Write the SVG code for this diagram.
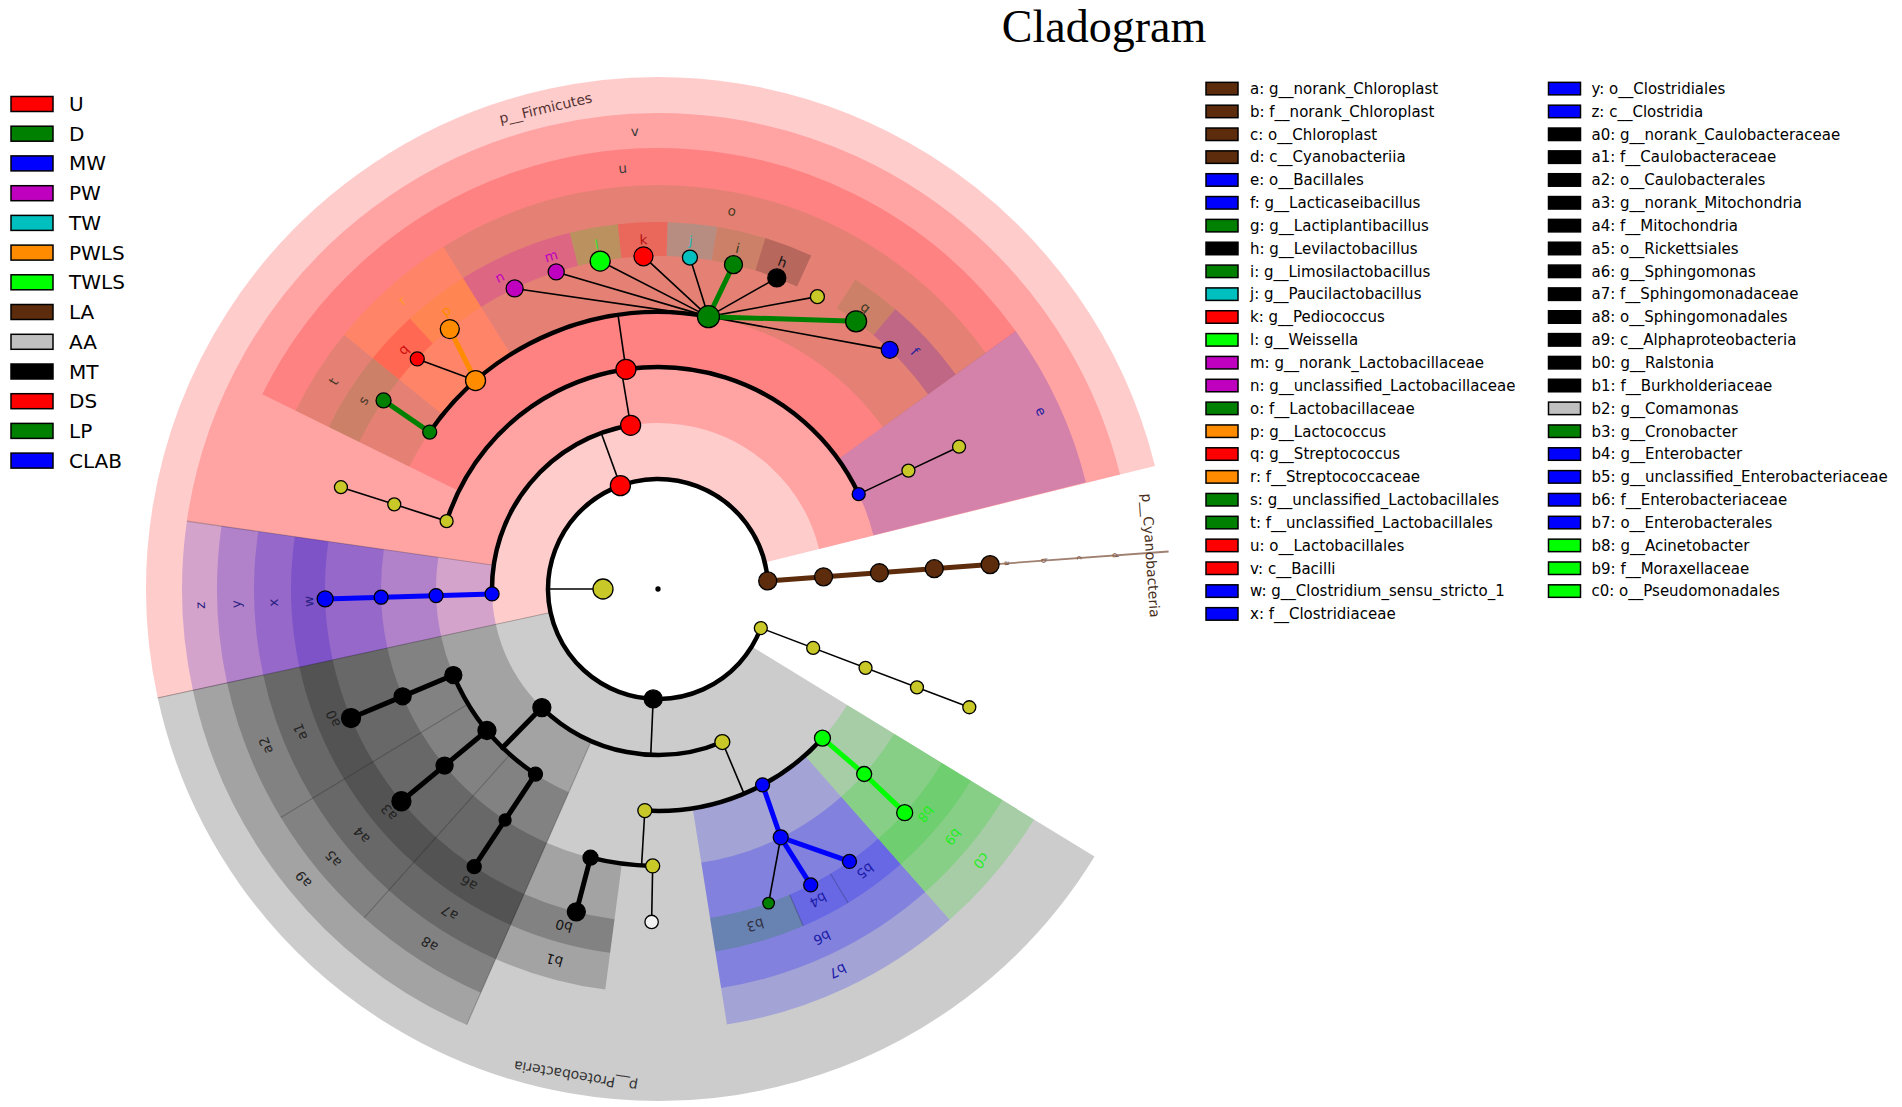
<svg xmlns="http://www.w3.org/2000/svg" width="1902" height="1107" viewBox="0 0 1902 1107">
<style>
text{font-family:"DejaVu Sans","Liberation Sans",sans-serif}
.wd circle{fill:none;stroke-opacity:0.2}
.wd circle.lg{stroke-opacity:0.1}
.p{stroke-width:402}
.c{stroke-width:310}
.o{stroke-width:219}
.f{stroke-width:127}
.g{stroke-width:34}
.edge{stroke:#000;stroke-opacity:0.22;stroke-width:1.1}
.arc{fill:none;stroke:#000;stroke-width:4.5}
.thin{stroke:#000;stroke-width:1.6;fill:none}
.tk{stroke-width:5;fill:none;stroke-linecap:round}
.nd{stroke:#000;stroke-width:1.3}
.lb{font-size:13.5px;text-anchor:middle;dominant-baseline:central}
.ph{font-size:14px;text-anchor:middle;dominant-baseline:central}
.sm{font-size:8px;text-anchor:middle;dominant-baseline:central;fill:#7a5040}
.lg rect{stroke:#000;stroke-width:1.5}
.lg1 text{font-size:20px}
.lg2 text{font-size:15px}
</style>
<rect width="1902" height="1107" fill="#fff"/>
<text id="title" x="1104" y="42" font-family="Liberation Serif" font-size="46" text-anchor="middle" style="font-family:'Liberation Serif',serif">Cladogram</text>

<g id="shading" class="wd">
<circle cx="658" cy="589" r="311" class="p" stroke="#f00" stroke-dasharray="967.81 4000" transform="rotate(167.7 658 589)"/>
<circle cx="658" cy="589" r="311" class="p" stroke="#000" stroke-dasharray="739.29 4000" transform="rotate(31.5 658 589)"/>
<circle cx="658" cy="589" r="321" class="c" stroke="#f00" stroke-dasharray="884.08 4000" transform="rotate(188.2 658 589)"/>
<circle cx="658" cy="589" r="321" class="c" stroke="#2800c8" stroke-dasharray="114.85 4000" transform="rotate(167.7 658 589)"/>
<circle cx="658" cy="589" r="321" class="c" stroke="#000" stroke-dasharray="302.54 4000" transform="rotate(113.7 658 589)"/>
<circle cx="658" cy="589" r="331.5" class="o" stroke="#f00" stroke-dasharray="682.72 4000" transform="rotate(206.2 658 589)"/>
<circle cx="658" cy="589" r="331.5" class="o" stroke="#2800c8" stroke-dasharray="126.13 4000" transform="rotate(324.2 658 589)"/>
<circle cx="658" cy="589" r="331.5" class="o" stroke="#2800c8" stroke-dasharray="118.61 4000" transform="rotate(167.7 658 589)"/>
<circle cx="658" cy="589" r="331.5" class="o" stroke="#000" stroke-dasharray="109.35 4000" transform="rotate(148.8 658 589)"/>
<circle cx="658" cy="589" r="331.5" class="o" stroke="#000" stroke-dasharray="98.36 4000" transform="rotate(131.8 658 589)"/>
<circle cx="658" cy="589" r="331.5" class="o" stroke="#000" stroke-dasharray="104.72 4000" transform="rotate(113.7 658 589)"/>
<circle cx="658" cy="589" r="331.5" class="o" stroke="#00f" stroke-dasharray="187.46 4000" transform="rotate(48.6 658 589)"/>
<circle cx="658" cy="589" r="331.5" class="o" stroke="#10d010" stroke-dasharray="98.94 4000" transform="rotate(31.5 658 589)"/>
<circle cx="658" cy="589" r="340.5" class="f" stroke="#2800c8" stroke-dasharray="121.83 4000" transform="rotate(167.7 658 589)"/>
<circle cx="658" cy="589" r="340.5" class="f lg" stroke="#008000" stroke-dasharray="76.07 4000" transform="rotate(206.2 658 589)"/>
<circle cx="658" cy="589" r="340.5" class="f" stroke="#ff8c00" stroke-dasharray="112.32 4000" transform="rotate(219 658 589)"/>
<circle cx="658" cy="589" r="340.5" class="f lg" stroke="#008000" stroke-dasharray="512.87 4000" transform="rotate(237.9 658 589)"/>
<circle cx="658" cy="589" r="340.5" class="f" stroke="#000" stroke-dasharray="112.32 4000" transform="rotate(148.8 658 589)"/>
<circle cx="658" cy="589" r="340.5" class="f" stroke="#000" stroke-dasharray="101.03 4000" transform="rotate(131.8 658 589)"/>
<circle cx="658" cy="589" r="340.5" class="f" stroke="#000" stroke-dasharray="107.57 4000" transform="rotate(113.7 658 589)"/>
<circle cx="658" cy="589" r="340.5" class="f" stroke="#000" stroke-dasharray="96.27 4000" transform="rotate(97.5 658 589)"/>
<circle cx="658" cy="589" r="340.5" class="f" stroke="#00f" stroke-dasharray="192.55 4000" transform="rotate(48.6 658 589)"/>
<circle cx="658" cy="589" r="340.5" class="f" stroke="#10d010" stroke-dasharray="101.62 4000" transform="rotate(31.5 658 589)"/>
<circle cx="658" cy="589" r="350" class="g" stroke="#2800c8" stroke-dasharray="125.23 4000" transform="rotate(167.7 658 589)"/>
<circle cx="658" cy="589" r="350" class="g lg" stroke="#008000" stroke-dasharray="78.19 4000" transform="rotate(206.2 658 589)"/>
<circle cx="658" cy="589" r="350" class="g" stroke="#f00" stroke-dasharray="51.92 4000" transform="rotate(219 658 589)"/>
<circle cx="658" cy="589" r="350" class="g" stroke="#ff8c00" stroke-dasharray="63.53 4000" transform="rotate(227.5 658 589)"/>
<circle cx="658" cy="589" r="350" class="g" stroke="#bf00bf" stroke-dasharray="63.53 4000" transform="rotate(237.9 658 589)"/>
<circle cx="658" cy="589" r="350" class="g" stroke="#bf00bf" stroke-dasharray="47.65 4000" transform="rotate(248.3 658 589)"/>
<circle cx="658" cy="589" r="350" class="g" stroke="#10d010" stroke-dasharray="46.43 4000" transform="rotate(256.1 658 589)"/>
<circle cx="658" cy="589" r="350" class="g" stroke="#f00" stroke-dasharray="47.65 4000" transform="rotate(263.7 658 589)"/>
<circle cx="658" cy="589" r="350" class="g" stroke="#00bfbf" stroke-dasharray="47.65 4000" transform="rotate(271.5 658 589)"/>
<circle cx="658" cy="589" r="350" class="g lg" stroke="#008000" stroke-dasharray="47.04 4000" transform="rotate(279.3 658 589)"/>
<circle cx="658" cy="589" r="350" class="g" stroke="#000" stroke-dasharray="47.04 4000" transform="rotate(287 658 589)"/>
<circle cx="658" cy="589" r="350" class="g lg" stroke="#008000" stroke-dasharray="47.65 4000" transform="rotate(302.5 658 589)"/>
<circle cx="658" cy="589" r="350" class="g" stroke="#2800c8" stroke-dasharray="84.91 4000" transform="rotate(310.3 658 589)"/>
<circle cx="658" cy="589" r="350" class="g" stroke="#000" stroke-dasharray="115.45 4000" transform="rotate(148.8 658 589)"/>
<circle cx="658" cy="589" r="350" class="g" stroke="#000" stroke-dasharray="103.85 4000" transform="rotate(131.8 658 589)"/>
<circle cx="658" cy="589" r="350" class="g" stroke="#000" stroke-dasharray="110.57 4000" transform="rotate(113.7 658 589)"/>
<circle cx="658" cy="589" r="350" class="g" stroke="#000" stroke-dasharray="98.96 4000" transform="rotate(97.5 658 589)"/>
<circle cx="658" cy="589" r="350" class="g" stroke="#00f" stroke-dasharray="62.31 4000" transform="rotate(48.6 658 589)"/>
<circle cx="658" cy="589" r="350" class="g" stroke="#00f" stroke-dasharray="48.26 4000" transform="rotate(58.8 658 589)"/>
<circle cx="658" cy="589" r="350" class="g" stroke="#008000" stroke-dasharray="87.35 4000" transform="rotate(66.7 658 589)"/>
<circle cx="658" cy="589" r="350" class="g" stroke="#10d010" stroke-dasharray="104.46 4000" transform="rotate(31.5 658 589)"/>
<path class="edge" d="M468.11 704L280.79 817.45M510.03 754.5L364.06 917.76M591.28 741L466.67 1024.85M789.72 894.84L803.17 926.07M830.5 873.83L848.12 902.92M550.52 612.43L157.75 698.07M493.7 565.32L186.86 521.11"/>
</g>

<g id="connectors">
<circle cx="658" cy="589" r="110" class="arc" stroke-dasharray="643.15 4000" transform="rotate(20.8 658 589)"/>
<circle cx="658" cy="589" r="166" class="arc" stroke-dasharray="238.15 4000" transform="rotate(178.3 658 589)"/>
<circle cx="658" cy="589" r="222" class="arc" stroke-dasharray="530.44 4000" transform="rotate(197.8 658 589)"/>
<circle cx="658" cy="589" r="277" class="arc" stroke-dasharray="319.08 4000" transform="rotate(214.5 658 589)"/>
<circle cx="658" cy="589" r="166" class="arc" stroke-dasharray="194.70 4000" transform="rotate(67.2 658 589)"/>
<circle cx="658" cy="589" r="222" class="arc" stroke-dasharray="130.58 4000" transform="rotate(123.5 658 589)"/>
<circle cx="658" cy="589" r="222" class="arc" stroke-dasharray="198.38 4000" transform="rotate(42.2 658 589)"/>
<circle cx="658" cy="589" r="277" class="arc" stroke-dasharray="62.85 4000" transform="rotate(91.1 658 589)"/>
<line class="thin" x1="603" y1="589" x2="548" y2="589"/>
<line class="thin" x1="620.38" y1="485.63" x2="601.22" y2="433.01"/>
<line class="thin" x1="630.60" y1="425.28" x2="621.36" y2="370.04"/>
<line class="thin" x1="625.95" y1="369.32" x2="618.01" y2="314.90"/>
<polyline class="thin" points="446.63,521.13 394.26,504.32 340.94,487.20"/>
<polyline class="thin" points="858.71,494.13 908.43,470.62 959.06,446.69"/>
<line class="thin" x1="475.54" y1="380.58" x2="417.25" y2="358.94"/>
<path class="thin" d="M708.48 316.64L514.64 288.44M708.48 316.64L556.20 271.94M708.48 316.64L600.17 261.06M708.48 316.64L643.47 256.32M708.48 316.64L689.92 257.53M708.48 316.64L776.79 277.91M708.48 316.64L817.40 296.63M708.48 316.64L889.74 349.86"/>
<line class="thin" x1="760.83" y1="628.06" x2="969.30" y2="707.25"/>
<line class="thin" x1="653.20" y1="698.90" x2="650.76" y2="754.84"/>
<line class="thin" x1="722.33" y1="742.03" x2="744.03" y2="793.65"/>
<line class="thin" x1="644.83" y1="810.61" x2="641.57" y2="865.51"/>
<line class="thin" x1="652.68" y1="865.95" x2="651.61" y2="921.94"/>
<line class="thin" x1="780.73" y1="837.33" x2="768.61" y2="903.09"/>
<line x1="990.10" y1="564.61" x2="1168.62" y2="551.50" stroke="#a08070" stroke-width="1.8"/>
<line class="tk" stroke="#008000" x1="429.72" y1="432.10" x2="383.56" y2="400.39"/>
<line class="tk" stroke="#ff8c00" x1="475.54" y1="380.58" x2="449.79" y2="329.12"/>
<path class="tk" stroke="#008000" d="M708.48 316.64L733.47 264.66M708.48 316.64L856.08 321.31"/>
<line class="tk" stroke="#0000ff" x1="492.07" y1="593.93" x2="325.15" y2="598.88"/>
<line class="tk" stroke="#5c2c0c" x1="767.70" y1="580.94" x2="990.10" y2="564.61"/>
<line class="tk" stroke="#000" x1="541.86" y1="707.60" x2="502.67" y2="747.61"/>
<polyline class="tk" stroke="#000" points="453.35,675.03 402.64,696.34 351.02,718.04"/>
<polyline class="tk" stroke="#000" points="486.95,730.51 444.57,765.57 401.42,801.26"/>
<polyline class="tk" stroke="#000" points="535.47,774.12 505.11,819.99 474.20,866.69"/>
<line class="tk" stroke="#000" x1="590.52" y1="857.65" x2="576.31" y2="911.82"/>
<path class="tk" stroke="#0000ff" d="M762.56 784.83L780.73 837.33L849.48 861.44M780.73 837.33L810.73 884.91"/>
<polyline class="tk" stroke="#00ff00" points="822.46,738.12 864.17,773.99 904.69,812.68"/>
</g>

<g id="nodes" class="nd">
<circle id="root" cx="658" cy="589" r="2" fill="#000"/>
<g id="node-kingdom"><circle cx="603" cy="589" r="10" fill="#c8c828"/></g>
<g id="node-firmicutes"><circle cx="620.38" cy="485.63" r="10" fill="#f00"/></g>
<g id="node-v"><circle cx="630.60" cy="425.28" r="10" fill="#f00"/></g>
<g id="node-u"><circle cx="625.95" cy="369.32" r="10" fill="#f00"/></g>
<g id="node-bacilli-order"><circle cx="446.63" cy="521.13" r="6.5" fill="#c8c828"/><circle cx="394.26" cy="504.32" r="6.5" fill="#c8c828"/><circle cx="340.94" cy="487.20" r="6.5" fill="#c8c828"/></g>
<g id="node-e"><circle cx="858.71" cy="494.13" r="6.5" fill="#00f"/><circle cx="908.43" cy="470.62" r="6.5" fill="#c8c828"/><circle cx="959.06" cy="446.69" r="6.5" fill="#c8c828"/></g>
<g id="node-t"><circle cx="429.72" cy="432.10" r="7" fill="#008000"/></g>
<g id="node-s"><circle cx="383.56" cy="400.39" r="7.5" fill="#008000"/></g>
<g id="node-r"><circle cx="475.54" cy="380.58" r="10" fill="#ff8c00"/></g>
<g id="node-p"><circle cx="449.79" cy="329.12" r="9.5" fill="#ff8c00"/></g>
<g id="node-q"><circle cx="417.25" cy="358.94" r="7" fill="#f00"/></g>
<g id="node-n"><circle cx="514.64" cy="288.44" r="8.5" fill="#bf00bf"/></g>
<g id="node-m"><circle cx="556.20" cy="271.94" r="8" fill="#bf00bf"/></g>
<g id="node-l"><circle cx="600.17" cy="261.06" r="10" fill="#0f0"/></g>
<g id="node-k"><circle cx="643.47" cy="256.32" r="9.5" fill="#f00"/></g>
<g id="node-j"><circle cx="689.92" cy="257.53" r="7.5" fill="#00bfbf"/></g>
<g id="node-i"><circle cx="733.47" cy="264.66" r="9" fill="#008000"/></g>
<g id="node-h"><circle cx="776.79" cy="277.91" r="9" fill="#000"/></g>
<g id="node-genus-y"><circle cx="817.40" cy="296.63" r="7" fill="#c8c828"/></g>
<g id="node-g"><circle cx="856.08" cy="321.31" r="10.5" fill="#008000"/></g>
<g id="node-f"><circle cx="889.74" cy="349.86" r="8.5" fill="#00f"/></g>
<g id="node-o"><circle cx="708.48" cy="316.64" r="11" fill="#008000"/></g>
<g id="node-z"><circle cx="492.07" cy="593.93" r="7" fill="#00f"/></g>
<g id="node-y"><circle cx="436.10" cy="595.59" r="7" fill="#00f"/></g>
<g id="node-x"><circle cx="381.12" cy="597.22" r="7" fill="#00f"/></g>
<g id="node-w"><circle cx="325.15" cy="598.88" r="8" fill="#00f"/></g>
<g id="node-cyano" fill="#5c2c0c"><circle cx="767.70" cy="580.94" r="9"/><circle cx="823.55" cy="576.84" r="9"/><circle cx="879.40" cy="572.74" r="9"/><circle cx="934.25" cy="568.71" r="9"/><circle cx="990.10" cy="564.61" r="9"/></g>
<g id="node-phylum-y" fill="#c8c828"><circle cx="760.83" cy="628.06" r="6.5"/><circle cx="813.18" cy="647.95" r="6.5"/><circle cx="865.53" cy="667.83" r="6.5"/><circle cx="916.95" cy="687.37" r="6.5"/><circle cx="969.30" cy="707.25" r="6.5"/></g>
<g id="node-proteo"><circle cx="653.20" cy="698.90" r="9" fill="#000"/></g>
<g id="node-a9"><circle cx="541.86" cy="707.60" r="9" fill="#000"/></g>
<g id="node-a2"><circle cx="453.35" cy="675.03" r="8.5" fill="#000"/></g>
<g id="node-a1"><circle cx="402.64" cy="696.34" r="8.5" fill="#000"/></g>
<g id="node-a0"><circle cx="351.02" cy="718.04" r="9.5" fill="#000"/></g>
<g id="node-a5"><circle cx="486.95" cy="730.51" r="9" fill="#000"/></g>
<g id="node-a4"><circle cx="444.57" cy="765.57" r="8.5" fill="#000"/></g>
<g id="node-a3"><circle cx="401.42" cy="801.26" r="9.5" fill="#000"/></g>
<g id="node-a8"><circle cx="535.47" cy="774.12" r="7" fill="#000"/></g>
<g id="node-a7"><circle cx="505.11" cy="819.99" r="6" fill="#000"/></g>
<g id="node-a6"><circle cx="474.20" cy="866.69" r="7" fill="#000"/></g>
<g id="node-gamma"><circle cx="722.33" cy="742.03" r="7.5" fill="#c8c828"/></g>
<g id="node-burk-order"><circle cx="644.83" cy="810.61" r="7" fill="#c8c828"/></g>
<g id="node-comam-family"><circle cx="652.68" cy="865.95" r="7" fill="#c8c828"/></g>
<g id="node-b2"><circle cx="651.61" cy="921.94" r="6.7" fill="#f2f2f2"/></g>
<g id="node-b1"><circle cx="590.52" cy="857.65" r="7.5" fill="#000"/></g>
<g id="node-b0"><circle cx="576.31" cy="911.82" r="9" fill="#000"/></g>
<g id="node-b7"><circle cx="762.56" cy="784.83" r="7" fill="#00f"/></g>
<g id="node-b6"><circle cx="780.73" cy="837.33" r="7.5" fill="#00f"/></g>
<g id="node-b5"><circle cx="849.48" cy="861.44" r="7" fill="#00f"/></g>
<g id="node-b4"><circle cx="810.73" cy="884.91" r="7" fill="#00f"/></g>
<g id="node-b3"><circle cx="768.61" cy="903.09" r="5.8" fill="#008000"/></g>
<g id="node-c0"><circle cx="822.46" cy="738.12" r="8" fill="#0f0"/></g>
<g id="node-b9"><circle cx="864.17" cy="773.99" r="7.5" fill="#0f0"/></g>
<g id="node-b8"><circle cx="904.69" cy="812.68" r="8" fill="#0f0"/></g>
</g>

<g id="labels">
<text class="lb" fill="#4a3a2a" transform="translate(658 589) rotate(212.6) translate(350 0) rotate(90)">s</text>
<text class="lb" fill="#4a3a2a" transform="translate(658 589) rotate(212.6) translate(385.5 0) rotate(90)">t</text>
<text class="lb" fill="#d01010" transform="translate(658 589) rotate(223.25) translate(350 0) rotate(90)">q</text>
<text class="lb" fill="#ff8c00" transform="translate(658 589) rotate(232.7) translate(350 0) rotate(90)">p</text>
<text class="lb" fill="#ff9a30" transform="translate(658 589) rotate(228.45) translate(385.5 0) rotate(90)">r</text>
<text class="lb" fill="#c000c0" transform="translate(658 589) rotate(243.1) translate(350 0) rotate(90)">n</text>
<text class="lb" fill="#c000c0" transform="translate(658 589) rotate(252.2) translate(350 0) rotate(90)">m</text>
<text class="lb" fill="#2ee02e" transform="translate(658 589) rotate(259.9) translate(350 0) rotate(90)">l</text>
<text class="lb" fill="#b01010" transform="translate(658 589) rotate(267.6) translate(350 0) rotate(90)">k</text>
<text class="lb" fill="#20b8b8" transform="translate(658 589) rotate(275.4) translate(350 0) rotate(90)">j</text>
<text class="lb" fill="#3a3a22" transform="translate(658 589) rotate(283.15) translate(350 0) rotate(90)">i</text>
<text class="lb" fill="#111" transform="translate(658 589) rotate(290.85) translate(350 0) rotate(90)">h</text>
<text class="lb" fill="#3a3a22" transform="translate(658 589) rotate(306.4) translate(350 0) rotate(90)">g</text>
<text class="lb" fill="#1c1ca0" transform="translate(658 589) rotate(317.25) translate(350 0) rotate(90)">f</text>
<text class="lb" fill="#4a3a22" transform="translate(658 589) rotate(281.05) translate(385.5 0) rotate(90)">o</text>
<text class="lb" fill="#3a3a3a" transform="translate(658 589) rotate(265.2) translate(422.5 0) rotate(90)">u</text>
<text class="lb" fill="#1c1ca0" transform="translate(658 589) rotate(335.1) translate(422.5 0) rotate(90)">e</text>
<text class="lb" fill="#3a3a3a" transform="translate(658 589) rotate(267.1) translate(458.5 0) rotate(90)">v</text>
<text class="ph" fill="#553333" transform="translate(658 589) rotate(256.85) translate(494 0) rotate(90)">p__Firmicutes</text>
<text class="lb" fill="#2a2080" transform="translate(658 589) rotate(177.95) translate(350 0) rotate(90)">w</text>
<text class="lb" fill="#2a2080" transform="translate(658 589) rotate(177.95) translate(385.5 0) rotate(90)">x</text>
<text class="lb" fill="#2a2080" transform="translate(658 589) rotate(177.95) translate(422.5 0) rotate(90)">y</text>
<text class="lb" fill="#2a2080" transform="translate(658 589) rotate(177.95) translate(458.5 0) rotate(90)">z</text>
<text class="sm" transform="translate(658 589) rotate(355.8) translate(350 0) rotate(90)">a</text>
<text class="sm" transform="translate(658 589) rotate(355.8) translate(387 0) rotate(90)">b</text>
<text class="sm" transform="translate(658 589) rotate(355.8) translate(422.5 0) rotate(90)">c</text>
<text class="sm" transform="translate(658 589) rotate(355.8) translate(458.5 0) rotate(90)">d</text>
<text class="ph" fill="#4a3020" transform="translate(658 589) rotate(356.1) translate(494 0) rotate(90)">p__Cyanobacteria</text>
<text class="lb" fill="#222" transform="translate(658 589) rotate(158.25) translate(350 0) rotate(90)">a0</text>
<text class="lb" fill="#222" transform="translate(658 589) rotate(158.25) translate(385.5 0) rotate(90)">a1</text>
<text class="lb" fill="#222" transform="translate(658 589) rotate(158.25) translate(422.5 0) rotate(90)">a2</text>
<text class="lb" fill="#222" transform="translate(658 589) rotate(140.3) translate(350 0) rotate(90)">a3</text>
<text class="lb" fill="#222" transform="translate(658 589) rotate(140.3) translate(385.5 0) rotate(90)">a4</text>
<text class="lb" fill="#222" transform="translate(658 589) rotate(140.3) translate(422.5 0) rotate(90)">a5</text>
<text class="lb" fill="#222" transform="translate(658 589) rotate(122.75) translate(350 0) rotate(90)">a6</text>
<text class="lb" fill="#222" transform="translate(658 589) rotate(122.75) translate(385.5 0) rotate(90)">a7</text>
<text class="lb" fill="#222" transform="translate(658 589) rotate(122.75) translate(422.5 0) rotate(90)">a8</text>
<text class="lb" fill="#222" transform="translate(658 589) rotate(140.7) translate(458.5 0) rotate(90)">a9</text>
<text class="lb" fill="#111" transform="translate(658 589) rotate(105.6) translate(350 0) rotate(90)">b0</text>
<text class="lb" fill="#111" transform="translate(658 589) rotate(105.6) translate(385.5 0) rotate(90)">b1</text>
<text class="lb" fill="#334" transform="translate(658 589) rotate(73.85) translate(350 0) rotate(90)">b3</text>
<text class="lb" fill="#1c1ca8" transform="translate(658 589) rotate(62.75) translate(350 0) rotate(90)">b4</text>
<text class="lb" fill="#1c1ca8" transform="translate(658 589) rotate(53.7) translate(350 0) rotate(90)">b5</text>
<text class="lb" fill="#1c1ca8" transform="translate(658 589) rotate(64.8) translate(385.5 0) rotate(90)">b6</text>
<text class="lb" fill="#1c1ca8" transform="translate(658 589) rotate(64.8) translate(422.5 0) rotate(90)">b7</text>
<text class="lb" fill="#22ee22" transform="translate(658 589) rotate(40.05) translate(350 0) rotate(90)">b8</text>
<text class="lb" fill="#22ee22" transform="translate(658 589) rotate(40.05) translate(385.5 0) rotate(90)">b9</text>
<text class="lb" fill="#22ee22" transform="translate(658 589) rotate(40.05) translate(422.5 0) rotate(90)">c0</text>
<text class="ph" fill="#333" transform="translate(658 589) rotate(99.6) translate(494 0) rotate(90)">p__Proteobacteria</text>
</g>

<g id="legend-groups" class="lg lg1">
<rect x="11" y="96.5" width="42" height="15" fill="#f00"/><text x="69" y="111">U</text>
<rect x="11" y="126.2" width="42" height="15" fill="#008000"/><text x="69" y="140.7">D</text>
<rect x="11" y="155.9" width="42" height="15" fill="#00f"/><text x="69" y="170.4">MW</text>
<rect x="11" y="185.7" width="42" height="15" fill="#bf00bf"/><text x="69" y="200.2">PW</text>
<rect x="11" y="215.4" width="42" height="15" fill="#00bfbf"/><text x="69" y="229.9">TW</text>
<rect x="11" y="245.1" width="42" height="15" fill="#ff8c00"/><text x="69" y="259.6">PWLS</text>
<rect x="11" y="274.8" width="42" height="15" fill="#0f0"/><text x="69" y="289.3">TWLS</text>
<rect x="11" y="304.5" width="42" height="15" fill="#5c2c0c"/><text x="69" y="319">LA</text>
<rect x="11" y="334.3" width="42" height="15" fill="#c0c0c0"/><text x="69" y="348.8">AA</text>
<rect x="11" y="364" width="42" height="15" fill="#000"/><text x="69" y="378.5">MT</text>
<rect x="11" y="393.7" width="42" height="15" fill="#f00"/><text x="69" y="408.2">DS</text>
<rect x="11" y="423.4" width="42" height="15" fill="#008000"/><text x="69" y="437.9">LP</text>
<rect x="11" y="453.1" width="42" height="15" fill="#00f"/><text x="69" y="467.6">CLAB</text>
</g>

<g id="legend-taxa" class="lg lg2">
<rect x="1206" y="82.35" width="32" height="12.5" fill="#5c2c0c"/><text x="1250" y="93.9">a: g__norank_Chloroplast</text>
<rect x="1206" y="105.19" width="32" height="12.5" fill="#5c2c0c"/><text x="1250" y="116.74">b: f__norank_Chloroplast</text>
<rect x="1206" y="128.03" width="32" height="12.5" fill="#5c2c0c"/><text x="1250" y="139.58">c: o__Chloroplast</text>
<rect x="1206" y="150.87" width="32" height="12.5" fill="#5c2c0c"/><text x="1250" y="162.42">d: c__Cyanobacteriia</text>
<rect x="1206" y="173.71" width="32" height="12.5" fill="#00f"/><text x="1250" y="185.26">e: o__Bacillales</text>
<rect x="1206" y="196.55" width="32" height="12.5" fill="#00f"/><text x="1250" y="208.1">f: g__Lacticaseibacillus</text>
<rect x="1206" y="219.39" width="32" height="12.5" fill="#008000"/><text x="1250" y="230.94">g: g__Lactiplantibacillus</text>
<rect x="1206" y="242.23" width="32" height="12.5" fill="#000"/><text x="1250" y="253.78">h: g__Levilactobacillus</text>
<rect x="1206" y="265.07" width="32" height="12.5" fill="#008000"/><text x="1250" y="276.62">i: g__Limosilactobacillus</text>
<rect x="1206" y="287.91" width="32" height="12.5" fill="#00bfbf"/><text x="1250" y="299.46">j: g__Paucilactobacillus</text>
<rect x="1206" y="310.75" width="32" height="12.5" fill="#f00"/><text x="1250" y="322.3">k: g__Pediococcus</text>
<rect x="1206" y="333.59" width="32" height="12.5" fill="#0f0"/><text x="1250" y="345.14">l: g__Weissella</text>
<rect x="1206" y="356.43" width="32" height="12.5" fill="#bf00bf"/><text x="1250" y="367.98">m: g__norank_Lactobacillaceae</text>
<rect x="1206" y="379.27" width="32" height="12.5" fill="#bf00bf"/><text x="1250" y="390.82">n: g__unclassified_Lactobacillaceae</text>
<rect x="1206" y="402.11" width="32" height="12.5" fill="#008000"/><text x="1250" y="413.66">o: f__Lactobacillaceae</text>
<rect x="1206" y="424.95" width="32" height="12.5" fill="#ff8c00"/><text x="1250" y="436.5">p: g__Lactococcus</text>
<rect x="1206" y="447.79" width="32" height="12.5" fill="#f00"/><text x="1250" y="459.34">q: g__Streptococcus</text>
<rect x="1206" y="470.63" width="32" height="12.5" fill="#ff8c00"/><text x="1250" y="482.18">r: f__Streptococcaceae</text>
<rect x="1206" y="493.47" width="32" height="12.5" fill="#008000"/><text x="1250" y="505.02">s: g__unclassified_Lactobacillales</text>
<rect x="1206" y="516.31" width="32" height="12.5" fill="#008000"/><text x="1250" y="527.86">t: f__unclassified_Lactobacillales</text>
<rect x="1206" y="539.15" width="32" height="12.5" fill="#f00"/><text x="1250" y="550.7">u: o__Lactobacillales</text>
<rect x="1206" y="561.99" width="32" height="12.5" fill="#f00"/><text x="1250" y="573.54">v: c__Bacilli</text>
<rect x="1206" y="584.83" width="32" height="12.5" fill="#00f"/><text x="1250" y="596.38">w: g__Clostridium_sensu_stricto_1</text>
<rect x="1206" y="607.67" width="32" height="12.5" fill="#00f"/><text x="1250" y="619.22">x: f__Clostridiaceae</text>
<rect x="1548.5" y="82.35" width="32" height="12.5" fill="#00f"/><text x="1591.5" y="93.9">y: o__Clostridiales</text>
<rect x="1548.5" y="105.19" width="32" height="12.5" fill="#00f"/><text x="1591.5" y="116.74">z: c__Clostridia</text>
<rect x="1548.5" y="128.03" width="32" height="12.5" fill="#000"/><text x="1591.5" y="139.58">a0: g__norank_Caulobacteraceae</text>
<rect x="1548.5" y="150.87" width="32" height="12.5" fill="#000"/><text x="1591.5" y="162.42">a1: f__Caulobacteraceae</text>
<rect x="1548.5" y="173.71" width="32" height="12.5" fill="#000"/><text x="1591.5" y="185.26">a2: o__Caulobacterales</text>
<rect x="1548.5" y="196.55" width="32" height="12.5" fill="#000"/><text x="1591.5" y="208.1">a3: g__norank_Mitochondria</text>
<rect x="1548.5" y="219.39" width="32" height="12.5" fill="#000"/><text x="1591.5" y="230.94">a4: f__Mitochondria</text>
<rect x="1548.5" y="242.23" width="32" height="12.5" fill="#000"/><text x="1591.5" y="253.78">a5: o__Rickettsiales</text>
<rect x="1548.5" y="265.07" width="32" height="12.5" fill="#000"/><text x="1591.5" y="276.62">a6: g__Sphingomonas</text>
<rect x="1548.5" y="287.91" width="32" height="12.5" fill="#000"/><text x="1591.5" y="299.46">a7: f__Sphingomonadaceae</text>
<rect x="1548.5" y="310.75" width="32" height="12.5" fill="#000"/><text x="1591.5" y="322.3">a8: o__Sphingomonadales</text>
<rect x="1548.5" y="333.59" width="32" height="12.5" fill="#000"/><text x="1591.5" y="345.14">a9: c__Alphaproteobacteria</text>
<rect x="1548.5" y="356.43" width="32" height="12.5" fill="#000"/><text x="1591.5" y="367.98">b0: g__Ralstonia</text>
<rect x="1548.5" y="379.27" width="32" height="12.5" fill="#000"/><text x="1591.5" y="390.82">b1: f__Burkholderiaceae</text>
<rect x="1548.5" y="402.11" width="32" height="12.5" fill="#c0c0c0"/><text x="1591.5" y="413.66">b2: g__Comamonas</text>
<rect x="1548.5" y="424.95" width="32" height="12.5" fill="#008000"/><text x="1591.5" y="436.5">b3: g__Cronobacter</text>
<rect x="1548.5" y="447.79" width="32" height="12.5" fill="#00f"/><text x="1591.5" y="459.34">b4: g__Enterobacter</text>
<rect x="1548.5" y="470.63" width="32" height="12.5" fill="#00f"/><text x="1591.5" y="482.18">b5: g__unclassified_Enterobacteriaceae</text>
<rect x="1548.5" y="493.47" width="32" height="12.5" fill="#00f"/><text x="1591.5" y="505.02">b6: f__Enterobacteriaceae</text>
<rect x="1548.5" y="516.31" width="32" height="12.5" fill="#00f"/><text x="1591.5" y="527.86">b7: o__Enterobacterales</text>
<rect x="1548.5" y="539.15" width="32" height="12.5" fill="#0f0"/><text x="1591.5" y="550.7">b8: g__Acinetobacter</text>
<rect x="1548.5" y="561.99" width="32" height="12.5" fill="#0f0"/><text x="1591.5" y="573.54">b9: f__Moraxellaceae</text>
<rect x="1548.5" y="584.83" width="32" height="12.5" fill="#0f0"/><text x="1591.5" y="596.38">c0: o__Pseudomonadales</text>
</g>
</svg>
